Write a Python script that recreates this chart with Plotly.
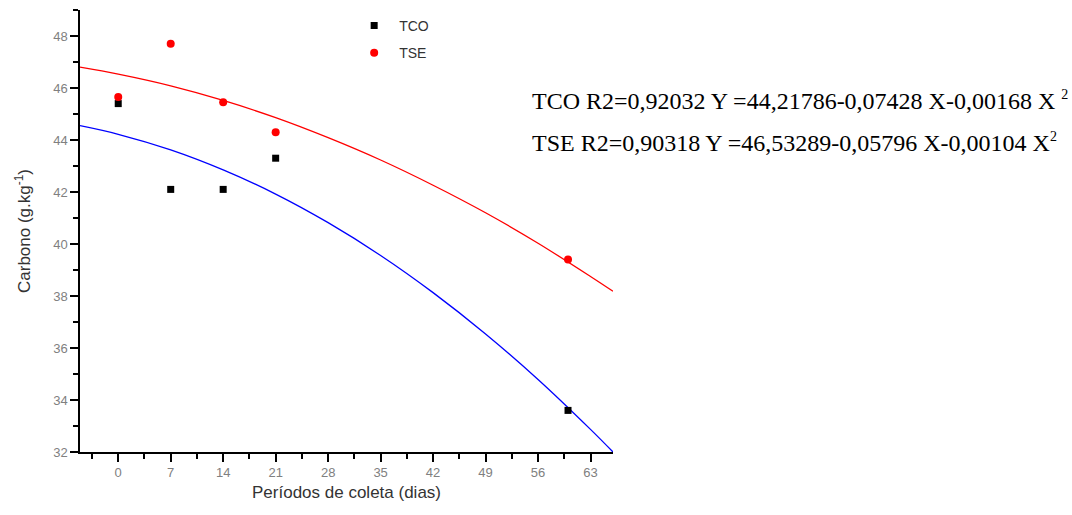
import plotly.graph_objects as go

# Observed data
periods = [0, 7, 14, 21, 60]
tco_values = [45.4, 42.1, 42.1, 43.3, 33.6]
tse_values = [45.65, 47.7, 45.45, 44.3, 39.4]

# Fitted curves
curve_x = [-5.1, 0, 7, 14, 21, 28, 35, 42, 49, 56, 63, 66]
tco_curve = [44.55, 44.22, 43.62, 42.85, 41.92, 40.82, 39.56, 38.13, 36.54, 34.79, 32.87, 32.0]
tse_curve = [46.80, 46.53, 46.08, 45.52, 44.86, 44.09, 43.23, 42.26, 41.20, 40.03, 38.75, 38.18]

x_ticks = [0, 7, 14, 21, 28, 35, 42, 49, 56, 63]
y_ticks = [32, 34, 36, 38, 40, 42, 44, 46, 48]

eq_tco = "TCO R2=0,92032 Y =44,21786-0,07428 X-0,00168 X <sup><span style='font-size:14px'>2</span></sup>"
eq_tse = "TSE R2=0,90318 Y =46,53289-0,05796 X-0,00104 X<sup><span style='font-size:14px'>2</span></sup>"

fig = go.Figure()
fig.add_trace(go.Scatter(x=curve_x, y=tco_curve, mode="lines", line=dict(color="#0000ff", width=1.3, shape="spline"),
                         showlegend=False, hoverinfo="skip"))
fig.add_trace(go.Scatter(x=curve_x, y=tse_curve, mode="lines", line=dict(color="#ff0000", width=1.3, shape="spline"),
                         showlegend=False, hoverinfo="skip"))
fig.add_trace(go.Scatter(x=periods, y=tco_values, mode="markers", name="TCO", legendgroup="a",
                         marker=dict(symbol="square", color="black", size=7)))
fig.add_trace(go.Scatter(x=periods, y=tse_values, mode="markers", name="TSE", legendgroup="b",
                         marker=dict(symbol="circle", color="#ff0000", size=8)))

axis_font = dict(family="Liberation Sans, Arial", size=13, color="#808080")
title_font = dict(family="Liberation Sans, Arial", size=17, color="#333333")
fig.update_xaxes(range=[-5.1, 66], tickvals=x_ticks, showline=True, linecolor="black", linewidth=1.5,
                 ticks="outside", ticklen=8, tickwidth=1.5, tickcolor="black", showgrid=False, zeroline=False,
                 tickfont=axis_font,
                 minor=dict(ticks="outside", ticklen=5, tickwidth=1.5, tickcolor="black", tick0=-3.5, dtick=7, showgrid=False),
                 title=dict(text="Períodos de coleta (dias)", font=title_font, standoff=7))
fig.update_yaxes(range=[32, 49], tickvals=y_ticks, showline=True, linecolor="black", linewidth=1.5,
                 ticks="outside", ticklen=8, tickwidth=1.5, tickcolor="black", showgrid=False, zeroline=False,
                 tickfont=axis_font,
                 minor=dict(ticks="outside", ticklen=5, tickwidth=1.5, tickcolor="black", tick0=33, dtick=2, showgrid=False),
                 title=dict(text="Carbono (g.kg<sup>-1</sup>)", font=title_font, standoff=18))

fig.update_layout(
    width=1072, height=515,
    margin=dict(l=80, r=459, t=10, b=63),
    plot_bgcolor="white", paper_bgcolor="white",
    showlegend=True,
    legend=dict(x=0.505, y=1.0, xanchor="left", yanchor="top", tracegroupgap=6, itemwidth=40,
                font=dict(family="Liberation Sans, Arial", size=14, color="#333333"), bgcolor="rgba(0,0,0,0)"),
)

pw = 1072 - 80 - 459
ph = 515 - 10 - 63
def px(xp):
    return (xp - 80) / pw
def py(yp):
    return (515 - 63 - yp) / ph
for txt, yc in [(eq_tco, 100), (eq_tse, 142)]:
    fig.add_annotation(x=px(530), y=py(yc), xref="paper", yref="paper", text=txt, showarrow=False,
                       xanchor="left", yanchor="middle",
                       font=dict(family="Liberation Serif, Times New Roman", size=24, color="black"))

fig.write_html("out.html")
